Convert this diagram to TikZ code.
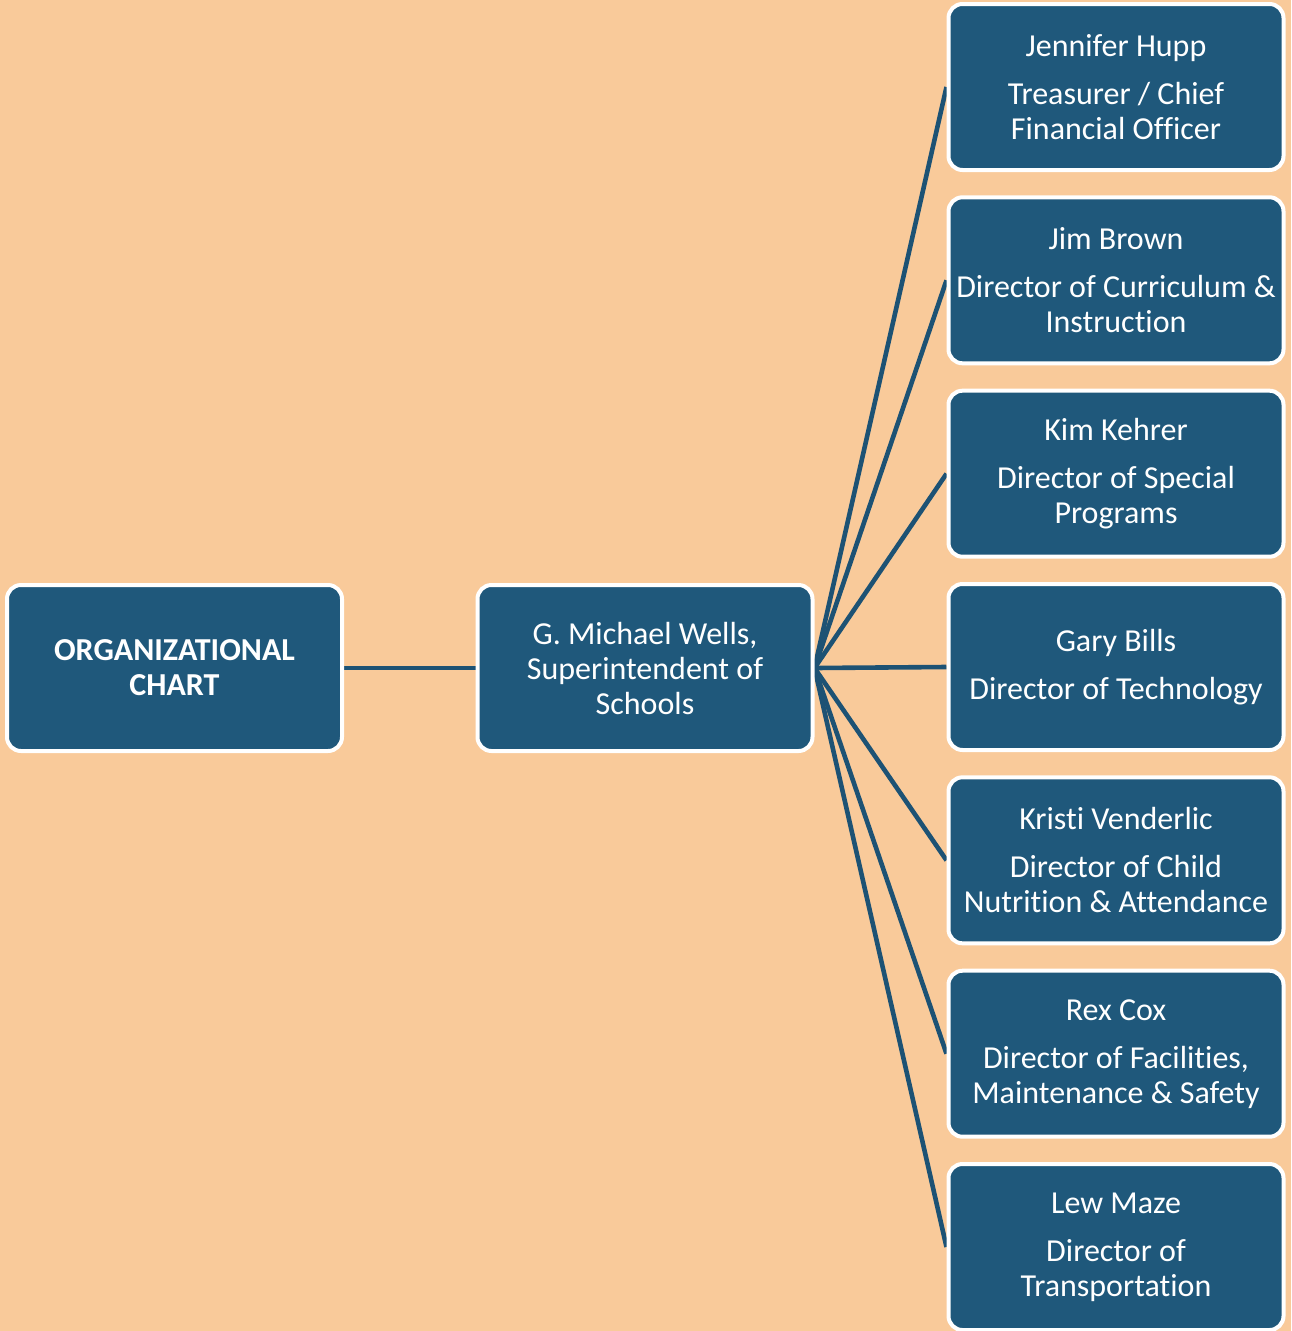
\documentclass[tikz,border=0pt]{standalone}
\usepackage{fontspec}
\setmainfont{Carlito}[Ligatures={NoCommon,NoContextual,NoRare},Contextuals=NoAlternate]
\usetikzlibrary{positioning}
\definecolor{peach}{HTML}{F9CA9A}
\definecolor{boxblue}{HTML}{1F587B}
\definecolor{lineblue}{HTML}{1D5274}
\pgfdeclarelayer{back}
\pgfdeclarelayer{wires}
\pgfsetlayers{back,wires,main}
\begin{document}
\begin{tikzpicture}[x=1pt,y=-1pt,
  orgbox/.style={draw=white, line width=4pt, fill=boxblue, rounded corners=14pt,
    minimum width=335pt, minimum height=166pt, text=white, align=center,
    font=\fontsize{32}{35}\selectfont, inner sep=0pt},
  wire/.style={draw=lineblue, line width=4.6pt}]
\begin{pgfonlayer}{back}
\fill[peach] (0,0) rectangle (1291,1331);
\end{pgfonlayer}
\useasboundingbox (0,0) rectangle (1291,1331);
\node[orgbox, font=\bfseries\fontsize{32}{35}\selectfont] (org) at (174.5,668) {ORGANIZATIONAL\\CHART};
\node[orgbox] (sup) at (645,668) {G. Michael Wells,\\Superintendent of\\Schools};
\node[orgbox] (r1) at (1116,87) {Jennifer Hupp\\[13pt]Treasurer / Chief\\Financial Officer};
\node[orgbox] (r2) at (1116,280.3) {Jim Brown\\[13pt]Director of Curriculum \&\\Instruction};
\node[orgbox] (r3) at (1116,473.7) {Kim Kehrer\\[13pt]Director of Special\\Programs};
\node[orgbox] (r4) at (1116,667) {Gary Bills\\[13pt]Director of Technology};
\node[orgbox] (r5) at (1116,860.3) {Kristi Venderlic\\[13pt]Director of Child\\Nutrition \& Attendance};
\node[orgbox] (r6) at (1116,1053.7) {Rex Cox\\[13pt]Director of Facilities,\\Maintenance \& Safety};
\node[orgbox] (r7) at (1116,1247) {Lew Maze\\[13pt]Director of\\Transportation};
\begin{pgfonlayer}{wires}
\draw[wire] (org.east) -- (sup.west);
\foreach \i in {1,...,7}{
  \draw[wire] (sup.east) -- (r\i.west);
}
\end{pgfonlayer}
\end{tikzpicture}
\end{document}
